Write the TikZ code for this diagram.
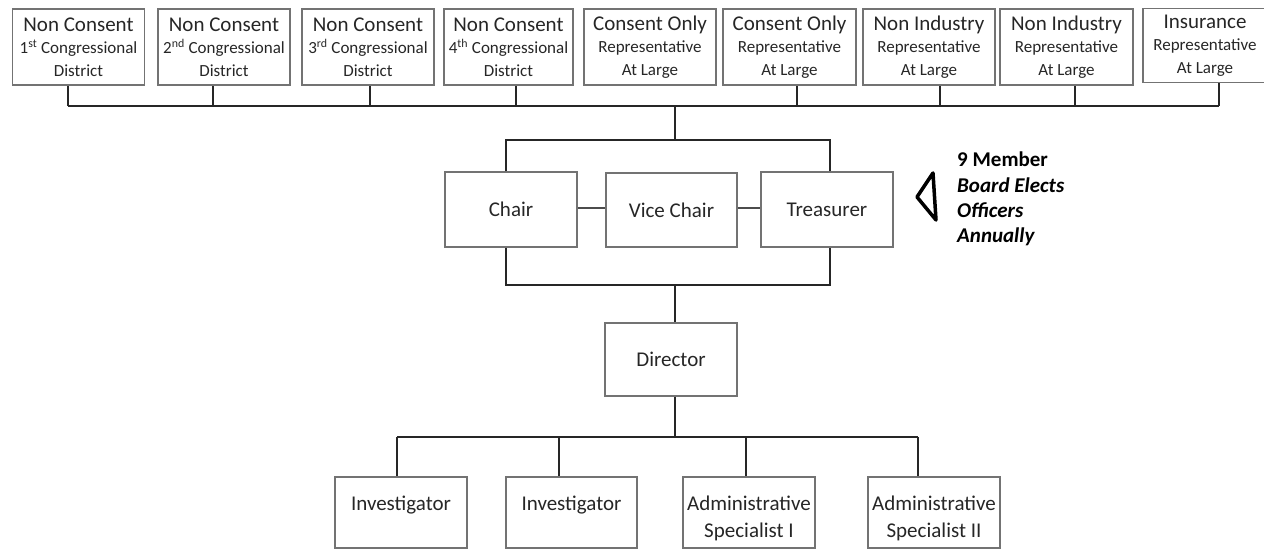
\documentclass[tikz,border=0pt]{standalone}
\usepackage{fontspec}
\setmainfont{Carlito}
\newcommand\subtxt{\fontsize{17}{22.5}\selectfont}
\begin{document}
\begin{tikzpicture}[x=1pt,y=-1pt,
  box/.style={draw=black!55, line width=1.1pt, rectangle, inner sep=0pt, align=center,
              font=\fontsize{21}{22.5}\selectfont, text=black!85},
  topbox/.style={box, minimum width=132pt, minimum height=76pt},
  midbox/.style={box, minimum width=132pt, minimum height=75pt},
  botbox/.style={box, minimum width=132pt, minimum height=71pt},
  lbl/.style={inner sep=0pt, align=center, font=\fontsize{21}{27}\selectfont, text=black!85},
  conn/.style={draw=black!85, line width=1.6pt},
  link/.style={draw=black!70, line width=1.1pt},
]
\useasboundingbox (0,0) rectangle (1264,551);

% top row
\node[topbox] (t1) at (78.5,47) {Non Consent\\{\subtxt 1\textsuperscript{st} Congressional}\\{\subtxt District}};
\node[topbox] (t2) at (224,47) {Non Consent\\{\subtxt 2\textsuperscript{nd} Congressional}\\{\subtxt District}};
\node[topbox] (t3) at (368,47) {Non Consent\\{\subtxt 3\textsuperscript{rd} Congressional}\\{\subtxt District}};
\node[topbox, minimum width=129pt] (t4) at (508.5,47) {Non Consent\\{\subtxt 4\textsuperscript{th} Congressional}\\{\subtxt District}};
\node[topbox] (t5) at (650,47) {Consent Only\\{\subtxt Representative}\\{\subtxt At Large}};
\node[topbox, minimum width=133pt] (t6) at (789.5,47) {Consent Only\\{\subtxt Representative}\\{\subtxt At Large}};
\node[topbox] (t7) at (929,47) {Non Industry\\{\subtxt Representative}\\{\subtxt At Large}};
\node[topbox, minimum width=133pt] (t8) at (1066.5,47) {Non Industry\\{\subtxt Representative}\\{\subtxt At Large}};
\node[topbox, minimum width=124pt, minimum height=74pt] (t9) at (1205,45.5) {Insurance\\{\subtxt Representative}\\{\subtxt At Large}};

% top bus
\foreach \n/\x in {t1/68,t2/213,t3/370,t4/516,t6/797,t7/940,t8/1075,t9/1219}{
  \coordinate (j\n) at (\x,106);
  \draw[conn] (j\n) -- (j\n |- \n.south);
}
\draw[conn] (jt1) -- (jt9);

% officers
\node[midbox] (chair) at (511,209.5) {Chair};
\node[midbox, minimum width=131pt, minimum height=74pt] (vice) at (671.5,210) {Vice Chair};
\node[midbox] (treas) at (827,209.5) {Treasurer};
\draw[link] (chair.east |- 0,208) -- (vice.west |- 0,208);
\draw[link] (vice.east |- 0,208) -- (treas.west |- 0,208);

\coordinate (tap) at (675,106);
\coordinate (split) at (675,140);
\coordinate (ca) at (506,140);
\coordinate (tb) at (830,140);
\draw[conn] (tap) -- (split);
\draw[conn] (ca |- chair.north) -- (ca) -- (tb) -- (tb |- treas.north);

\coordinate (cb) at (506,285);
\coordinate (tc) at (830,285);
\coordinate (m2) at (675,285);
\draw[conn] (cb |- chair.south) -- (cb) -- (tc) -- (tc |- treas.south);

% director
\node[box, minimum width=132pt, minimum height=73pt] (dir) at (671,359.5) {Director};
\draw[conn] (m2) -- (m2 |- dir.north);
\coordinate (m3) at (675,437);
\draw[conn] (m3 |- dir.south) -- (m3);

% bottom row
\node[botbox] (b1) at (401,512.5) {};
\node[botbox, minimum width=131pt] (b2) at (571.5,512.5) {};
\node[botbox] (b3) at (749,512.5) {};
\node[botbox] (b4) at (934,512.5) {};
\node[lbl] (b1t) at (401,505) {Investigator};
\node[lbl] (b2t) at (571.5,505) {Investigator};
\node[lbl] (b3t) at (749,518.5) {Administrative\\Specialist I};
\node[lbl] (b4t) at (934,518.5) {Administrative\\Specialist II};

\foreach \n/\x in {b1/397,b2/559,b3/746,b4/918}{
  \coordinate (k\n) at (\x,437);
  \draw[conn] (k\n) -- (k\n |- \n.north);
}
\draw[conn] (kb1) -- (kb4);

% annotation
\draw[line width=3.5pt, line join=round] (933,173) -- (917,197) -- (936,220) -- cycle;
\node[anchor=west, align=left, inner sep=0pt, font=\fontsize{21}{25.3}\selectfont\bfseries] (note) at (957,199)
  {9 Member\\\textit{Board Elects}\\\textit{Officers}\\\textit{Annually}};
\end{tikzpicture}
\end{document}
